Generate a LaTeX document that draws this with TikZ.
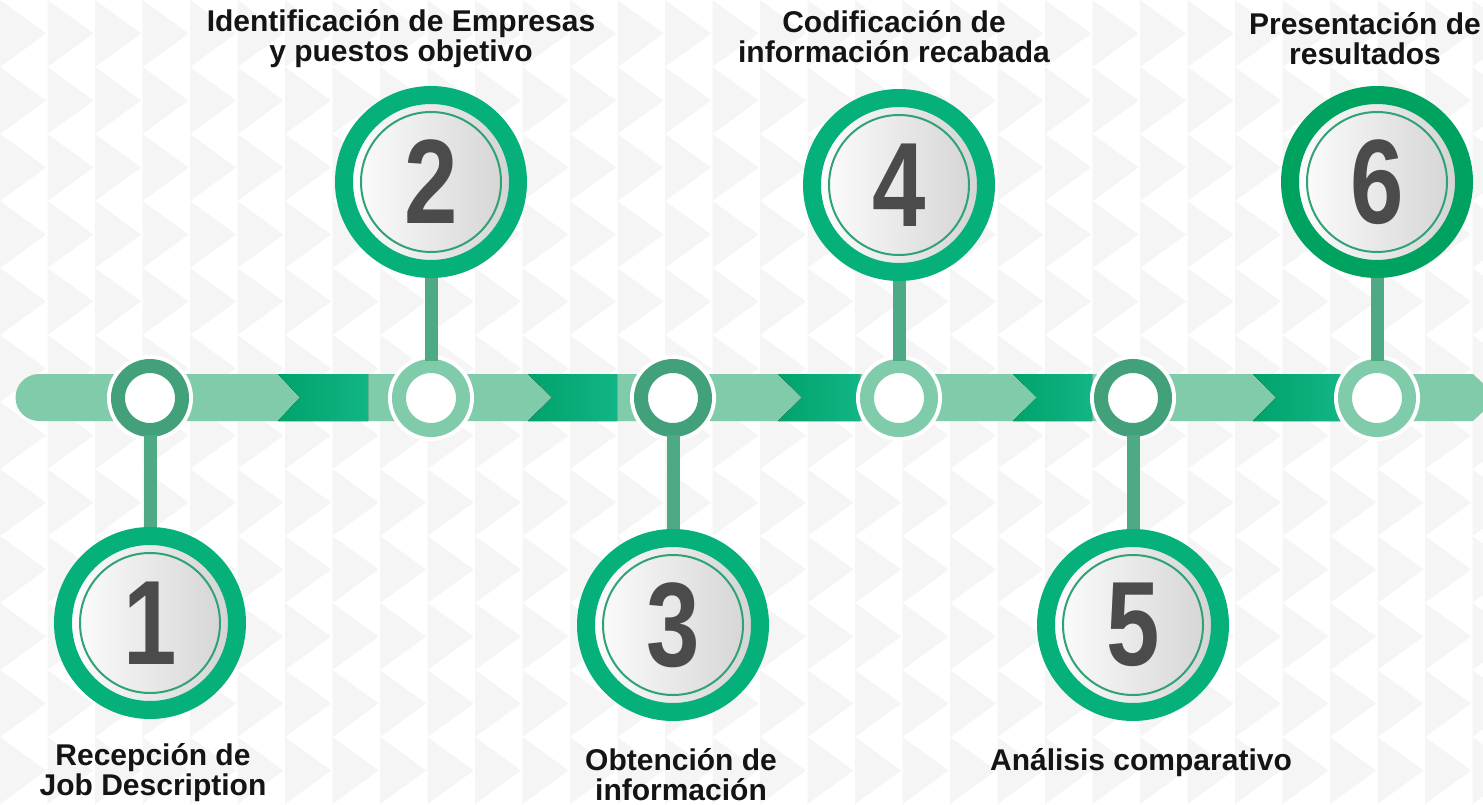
\documentclass[tikz,border=0pt]{standalone}
\usepackage{fontspec}
\setmainfont{Liberation Sans}
\usetikzlibrary{positioning}

\definecolor{paper}{HTML}{F5F5F5}
\definecolor{barlight}{HTML}{80CBAA}
\definecolor{stepdark}{HTML}{00A36B}
\definecolor{steplight}{HTML}{12B585}
\definecolor{dotdark}{HTML}{42A07A}
\definecolor{ring}{HTML}{05B07B}
\definecolor{ringdark}{HTML}{00A25F}
\definecolor{disk}{HTML}{D2D2D2}
\definecolor{inring}{HTML}{2FA276}
\definecolor{stemgreen}{HTML}{4EA985}
\definecolor{num}{HTML}{4B4B4B}
\definecolor{ink}{HTML}{141414}

\newcommand{\stepnum}[1]{\textcolor{num}{\fontsize{120}{120}\selectfont\bfseries\scalebox{0.8}[1]{#1}}}

\begin{document}
\begin{tikzpicture}[x=1pt,y=-1pt,
  dot/.style={circle,minimum size=64,inner sep=0,fill=white,draw=white,line width=4,double distance=14},
  bigstep/.style={circle,minimum size=174,inner sep=0,line width=18,draw=ring,left color=white,right color=disk,
    path picture={\draw[inring,line width=2] (path picture bounding box.center) circle (70);}},
  stem/.style={draw=stemgreen,line width=13,shorten >=3},
  steptext/.style={align=center,inner sep=0,anchor=north,text=ink,font=\fontsize{30}{30}\selectfont\bfseries}]
\useasboundingbox (0,0) rectangle (1483,805);
\clip (0,0) rectangle (1483,805);
\fill[white] (0,0) rectangle (1483,805);
% background
\foreach \i in {0,...,31}
  \foreach \j in {0,...,12}
    \fill[paper] ({47.5*\i},{67*\j}) -- ++(46,33.5) -- ++(-46,33.5) -- cycle;
% timeline bar
\fill[barlight] (1473,374) -- (1498,397.5) -- (1473,421) -- (39,421) arc[start angle=90,end angle=270,radius=23.5] -- cycle;
\foreach \a/\b/\e in {278/300/368,528/552/617,778/802/860,1013/1037/1092,1253/1276/1340}
  \fill[left color=stepdark,right color=steplight] (\a,374) -- (\b,397.5) -- (\a,421) -- (\e,421) -- (\e,374) -- cycle;
% dots on the bar
\node[dot,double=dotdark] (d1) at (150,398) {};
\node[dot,double=barlight] (d2) at (431,398) {};
\node[dot,double=dotdark] (d3) at (673,398) {};
\node[dot,double=barlight] (d4) at (899,398) {};
\node[dot,double=dotdark] (d5) at (1133,398) {};
\node[dot,double=barlight] (d6) at (1377,398) {};
% numbered steps
\node[bigstep] (n1) at (150,623) {\stepnum{1}};
\node[bigstep] (n2) at (431,182) {\stepnum{2}};
\node[bigstep] (n3) at (673,625) {\stepnum{3}};
\node[bigstep] (n4) at (899,185) {\stepnum{4}};
\node[bigstep] (n5) at (1133,625) {\stepnum{5}};
\node[bigstep,draw=ringdark] (n6) at (1377,182) {\stepnum{6}};
\draw[stem] (n1) -- (d1);
\draw[stem] (n2) -- (d2);
\draw[stem] (n3) -- (d3);
\draw[stem] (n4) -- (d4);
\draw[stem] (n5) -- (d5);
\draw[stem] (n6) -- (d6);
% texts
\node[steptext] (t1) at (153,743) {Recepción de\\Job Description};
\node[steptext] (t2) at (401,9) {Identificación de Empresas\\y puestos objetivo};
\node[steptext] (t3) at (681,748) {Obtención de\\información};
\node[steptext] (t4) at (894,10) {Codificación de\\información recabada};
\node[steptext,anchor=base] (t5) at (1141,770) {Análisis comparativo};
\node[steptext] (t6) at (1365,12) {Presentación de\\resultados};
\end{tikzpicture}
\end{document}
